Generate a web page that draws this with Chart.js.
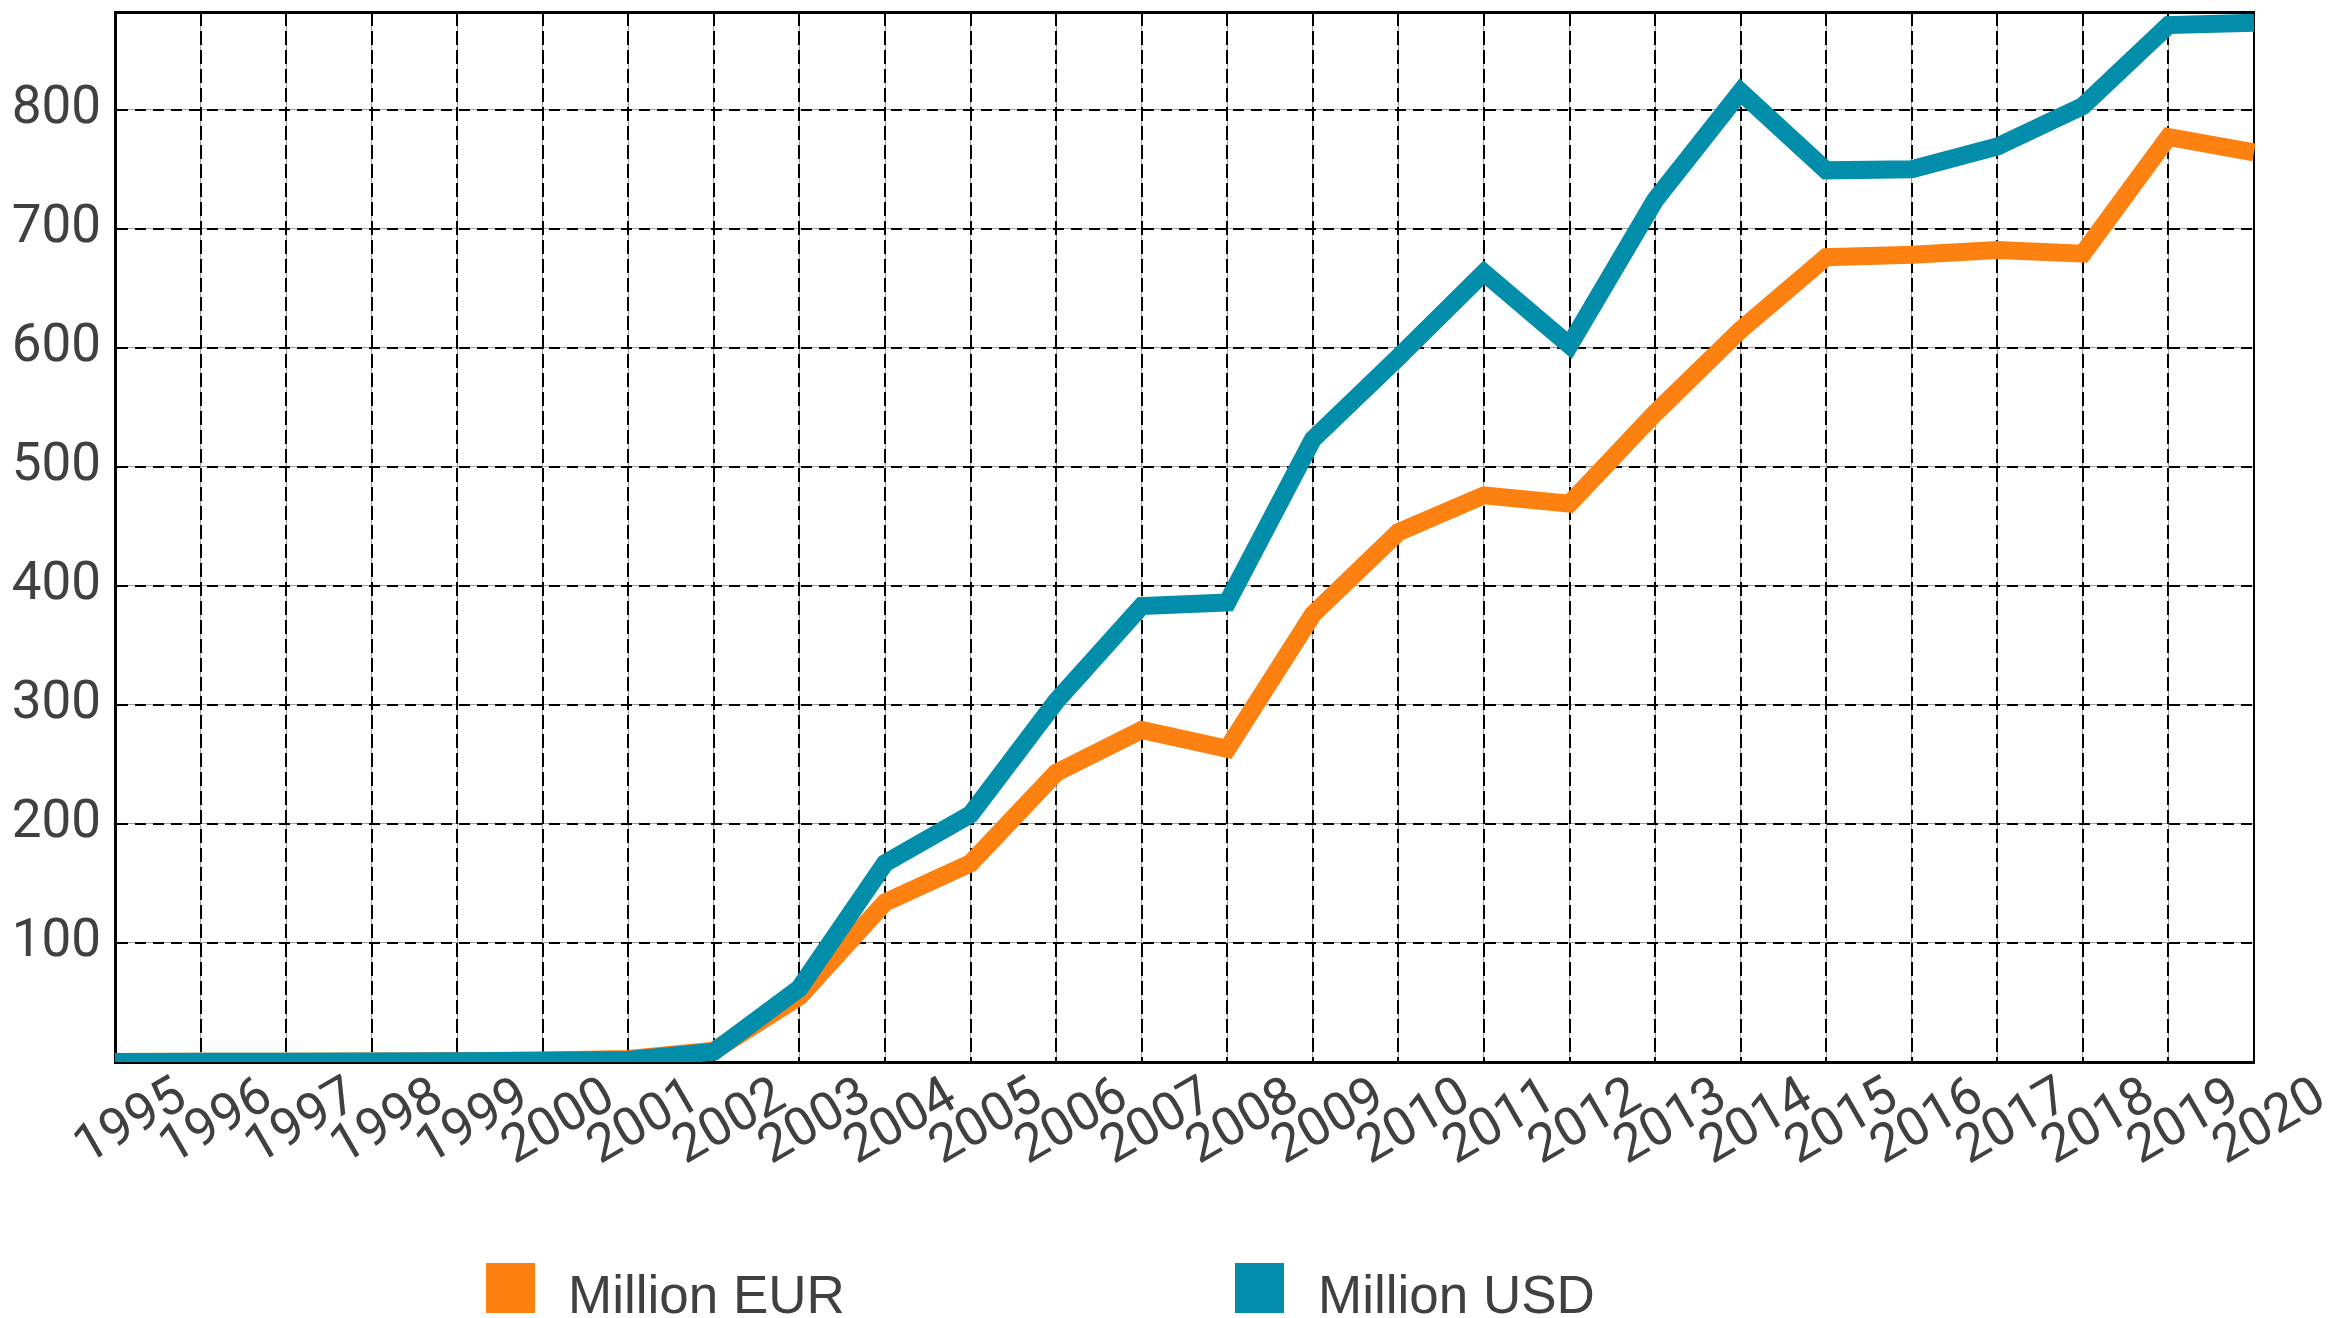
<!DOCTYPE html>
<html>
<head>
<meta charset="utf-8">
<script src="https://cdn.jsdelivr.net/npm/chart.js@4.4.1/dist/chart.umd.min.js"></script>
<style>
  html, body { margin: 0; padding: 0; background: #ffffff; }
  #wrap { width: 2344px; height: 1318px; position: relative; }
</style>
</head>
<body>
<div id="wrap"><canvas id="c"></canvas></div>
<script>
const years = ['1995','1996','1997','1998','1999','2000','2001','2002','2003','2004','2005','2006','2007','2008','2009','2010','2011','2012','2013','2014','2015','2016','2017','2018','2019','2020'];
const eurValues = [0, 0.2, 0.3, 0.5, 0.7, 1.2, 2.5, 9.5, 55, 134, 167, 243, 279, 263, 376, 445, 476, 469, 545, 615, 676, 678, 682, 679, 777, 764];
const usdValues = [0, 0.2, 0.3, 0.5, 0.7, 1.0, 1.7, 8.7, 62, 167, 208, 303, 383, 386, 523, 592, 663, 602, 724, 815, 749, 750, 769, 803, 871, 873];
const seriesNames = ['Million EUR', 'Million USD'];
const yTickLabels = [100, 200, 300, 400, 500, 600, 700, 800];
const yMin = 0, yMax = 882, yStep = 100;

const EUR_COLOR = '#fd8110';
const USD_COLOR = '#028dab';
const TEXT_COLOR = '#404040';
const TICK_FONT = { family: 'Roboto, "Open Sans", sans-serif', size: 53 };

const legendPlugin = {
  id: 'customLegend',
  afterDraw(chart) {
    const ctx = chart.ctx;
    const items = [
      { text: seriesNames[0], color: EUR_COLOR, bx: 486, tx: 568 },
      { text: seriesNames[1], color: USD_COLOR, bx: 1235, tx: 1318 }
    ];
    ctx.save();
    ctx.font = '53px "Liberation Sans", Arial, sans-serif';
    ctx.textBaseline = 'alphabetic';
    ctx.textAlign = 'left';
    items.forEach(it => {
      ctx.fillStyle = it.color;
      ctx.fillRect(it.bx, 1263, 49, 50);
      ctx.fillStyle = TEXT_COLOR;
      ctx.fillText(it.text, it.tx, 1313);
    });
    ctx.restore();
  }
};

new Chart(document.getElementById('c'), {
  type: 'line',
  data: {
    labels: years,
    datasets: [
      { label: seriesNames[0], data: eurValues, xAxisID: 'x', yAxisID: 'y', borderColor: EUR_COLOR, backgroundColor: EUR_COLOR,
        borderWidth: 18, pointRadius: 0, tension: 0, fill: false, order: 2, borderCapStyle: 'butt', borderJoinStyle: 'miter' },
      { label: seriesNames[1], data: usdValues, xAxisID: 'x', yAxisID: 'y', borderColor: USD_COLOR, backgroundColor: USD_COLOR,
        borderWidth: 18, pointRadius: 0, tension: 0, fill: false, order: 1, borderCapStyle: 'butt', borderJoinStyle: 'miter' }
    ]
  },
  options: {
    responsive: true,
    maintainAspectRatio: false,
    animation: false,
    devicePixelRatio: 1,
    layout: { autoPadding: false, padding: { left: 0, right: 90, top: 12, bottom: 0 } },
    plugins: { legend: { display: false }, tooltip: { enabled: false }, title: { display: false } },
    scales: {
      x2: {
        type: 'category',
        position: 'top',
        offset: false,
        labels: years,
        grid: { display: true, color: '#a0a0a0', lineWidth: 1, drawTicks: false },
        border: { display: true, color: '#000000', width: 3 },
        ticks: { display: false },
        afterFit(scale) { scale.height = 0; }
      },
      y2: {
        position: 'right',
        min: yMin, max: yMax,
        grid: { display: true, color: '#a0a0a0', lineWidth: 1, drawTicks: false },
        border: { display: true, color: '#000000', width: 2 },
        ticks: { display: false, stepSize: yStep },
        afterFit(scale) { scale.width = 0; }
      },
      x: {
        type: 'category',
        position: 'bottom',
        offset: false,
        grid: { display: true, color: '#000000', lineWidth: 2, drawTicks: false },
        border: { display: true, color: '#000000', width: 3, dash: [14, 5] },
        ticks: { color: TEXT_COLOR, font: TICK_FONT, minRotation: 30, maxRotation: 30, autoSkip: false,
                 labelOffset: 68, padding: 4 },
        afterFit(scale) { scale.height = 256; }
      },
      y: {
        position: 'left',
        min: yMin, max: yMax,
        grid: { display: true, color: '#000000', lineWidth: 2, drawTicks: false },
        border: { display: true, color: '#000000', width: 3, dash: [11, 7] },
        ticks: { stepSize: yStep, color: TEXT_COLOR, font: TICK_FONT, padding: 14,
                 callback: (v) => yTickLabels.includes(v) ? String(v) : null },
        afterFit(scale) { scale.width = 115; scale.paddingTop = 0; scale.paddingBottom = 0; }
      }
    }
  },
  plugins: [legendPlugin]
});
</script>
</body>
</html>
